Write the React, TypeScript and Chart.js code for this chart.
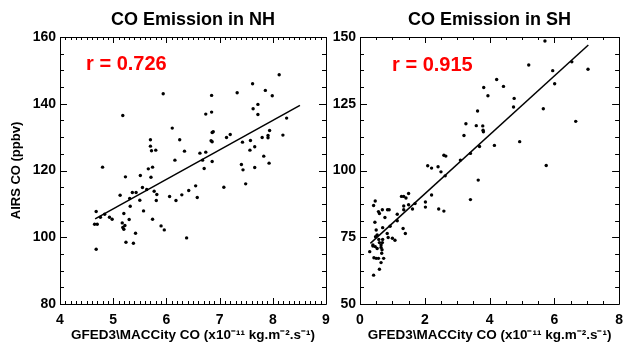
import React, { useEffect, useRef } from "react";
import { Chart, registerables } from "chart.js";

Chart.register(...registerables);

const FONT = '"Liberation Sans", Arial, Helvetica, sans-serif';

// ---------- Northern Hemisphere data ----------
const nhX = [8.12, 7.62, 7.86, 5.94, 7.33, 6.85, 7.99, 7.72, 7.63, 6.85, 6.74, 7.72, 5.18, 8.26, 6.11, 6.88, 6.86, 7.94, 7.2, 8.19, 7.13, 7.8, 7.91, 7.91, 5.7, 6.25, 6.84, 6.86, 7.43, 7.58, 5.7, 7.66, 5.72, 5.8, 6.34, 7.57, 6.74, 6.63, 7.83, 6.16, 6.68, 6.86, 7.93, 7.41, 4.8, 5.74, 5.66, 7.66, 6.71, 7.44, 5.51, 5.71, 5.23, 7.49, 6.55, 7.08, 5.55, 5.63, 6.42, 5.77, 5.36, 5.43, 5.13, 6.29, 5.82, 6.06, 6.58, 5.31, 5.5, 5.81, 6.18, 5.32, 5.57, 4.68, 5.2, 4.84, 4.76, 4.93, 4.98, 5.3, 5.74, 5.17, 4.65, 4.7, 5.22, 5.9, 5.18, 5.2, 5.96, 5.42, 6.38, 5.24, 5.38, 4.68];
const nhY = [148.7, 146.0, 144.0, 143.0, 143.3, 142.5, 142.4, 139.8, 138.5, 137.5, 136.9, 136.8, 136.5, 135.7, 132.7, 131.6, 131.4, 132.0, 130.8, 130.6, 129.9, 129.9, 130.5, 129.8, 129.2, 129.2, 128.9, 128.6, 128.5, 129.0, 127.3, 127.1, 125.9, 126.1, 125.8, 126.1, 125.5, 125.2, 124.3, 123.1, 123.1, 122.7, 122.2, 121.8, 121.0, 121.0, 120.5, 120.9, 120.6, 120.2, 118.5, 118.0, 118.1, 116.0, 115.4, 115.0, 114.9, 114.3, 114.0, 113.8, 113.4, 113.4, 112.6, 112.7, 112.8, 112.2, 111.9, 111.6, 111.1, 111.0, 111.0, 109.3, 107.9, 107.7, 107.1, 106.9, 106.0, 106.0, 105.4, 105.3, 105.4, 104.3, 103.9, 103.9, 103.5, 103.4, 102.9, 102.4, 102.2, 101.2, 99.8, 98.5, 98.2, 96.4];
const nhFitX = [4.66, 8.51];
const nhFitY = [105.5, 139.5];
const nhXTicks = [4, 5, 6, 7, 8, 9];
const nhYTicks = [80, 100, 120, 140, 160];

// ---------- Southern Hemisphere data ----------
const shX = [5.71, 5.21, 6.54, 5.95, 7.04, 6.01, 4.22, 4.43, 3.82, 3.95, 4.76, 3.63, 4.74, 5.66, 6.66, 3.27, 3.59, 3.79, 3.8, 3.81, 3.21, 4.15, 4.93, 3.69, 3.41, 2.59, 2.65, 3.1, 5.75, 2.09, 2.21, 2.41, 2.5, 2.63, 3.65, 2.21, 1.5, 1.28, 1.35, 1.42, 3.41, 2.02, 1.7, 1.5, 1.35, 1.62, 1.35, 2.02, 2.43, 2.59, 0.47, 0.42, 0.57, 0.6, 0.85, 0.9, 0.69, 1.15, 0.77, 1.15, 0.46, 0.93, 0.7, 1.33, 0.5, 0.84, 1.4, 0.53, 0.87, 1.0, 1.08, 0.58, 0.7, 0.48, 0.6, 0.69, 0.65, 0.4, 0.47, 0.53, 0.65, 0.3, 0.67, 0.43, 0.5, 0.57, 0.73, 0.65, 0.6, 0.42, 0.4, 0.68];
const shY = [148.5, 139.5, 140.7, 137.4, 137.9, 132.5, 134.1, 131.5, 131.1, 128.0, 127.0, 122.3, 123.8, 123.1, 118.4, 117.5, 116.8, 116.7, 115.1, 114.5, 113.1, 109.4, 110.8, 109.0, 106.4, 105.7, 105.4, 103.9, 101.9, 101.8, 100.9, 101.4, 99.5, 98.0, 96.4, 90.8, 91.4, 90.3, 90.3, 89.7, 89.1, 88.2, 87.6, 87.2, 86.7, 85.6, 85.3, 86.3, 85.6, 84.8, 88.6, 86.9, 84.6, 83.9, 85.3, 85.3, 85.3, 83.6, 82.4, 81.2, 80.6, 79.1, 78.6, 78.3, 77.7, 76.4, 76.4, 75.9, 74.9, 74.6, 73.9, 74.2, 74.2, 75.2, 73.0, 73.0, 72.1, 72.1, 71.5, 70.8, 71.2, 69.6, 69.0, 67.3, 67.1, 67.1, 67.1, 65.5, 63.0, 60.8, 71.7, 70.3];
const shFitX = [0.32, 7.05];
const shFitY = [72.7, 147.0];
const shXTicks = [0, 2, 4, 6, 8];
const shYTicks = [50, 75, 100, 125, 150];

const xTitle = "GFED3\\MACCity CO (x10\u207B\u00B9\u00B9 kg.m\u207B\u00B2.s\u207B\u00B9)";

type Panel = {
  title: string;
  x: number[];
  y: number[];
  fitX: number[];
  fitY: number[];
  xTicks: number[];
  yTicks: number[];
  xMinor: number;
  yMinor: number;
  rText: string;
  rPos: [number, number];
  yTitle: string | null;
  yWidth: number;
  padRight: number;
};

const boxPlugin = {
  id: "idlBox",
  afterDatasetsDraw(chart: any, _args: any, opts: any) {
    const { ctx, chartArea } = chart;
    const { left, right, top, bottom } = chartArea;
    const xs = chart.scales.x;
    const ys = chart.scales.y;
    ctx.save();
    ctx.strokeStyle = "#000";
    ctx.lineWidth = 1;
    ctx.beginPath();
    ctx.rect(Math.round(left) + 0.5, Math.round(top) + 0.5, Math.round(right - left), Math.round(bottom - top));
    ctx.stroke();
    const xMajor = opts.xTicks as number[];
    const yMajor = opts.yTicks as number[];
    const isMajor = (arr: number[], v: number) => arr.some((m) => Math.abs(m - v) < 1e-6);
    ctx.beginPath();
    for (let v = xs.min; v <= xs.max + 1e-9; v += opts.xMinor) {
      const px = Math.round(xs.getPixelForValue(v)) + 0.5;
      const len = isMajor(xMajor, v) ? 6 : 3;
      ctx.moveTo(px, bottom);
      ctx.lineTo(px, bottom - len);
      ctx.moveTo(px, top);
      ctx.lineTo(px, top + len);
    }
    for (let v = ys.min; v <= ys.max + 1e-9; v += opts.yMinor) {
      const py = Math.round(ys.getPixelForValue(v)) + 0.5;
      const len = isMajor(yMajor, v) ? 7 : 4;
      ctx.moveTo(left, py);
      ctx.lineTo(left + len, py);
      ctx.moveTo(right, py);
      ctx.lineTo(right - len, py);
    }
    ctx.stroke();
    // correlation label
    ctx.fillStyle = "#ff0000";
    ctx.font = `bold 20px ${FONT}`;
    ctx.textAlign = "left";
    ctx.textBaseline = "middle";
    ctx.fillText(opts.rText, xs.getPixelForValue(opts.rPos[0]), ys.getPixelForValue(opts.rPos[1]));
    ctx.restore();
  },
};

function makeConfig(p: Panel): any {
  const pts = p.x.map((v, i) => ({ x: v, y: p.y[i] }));
  const fit = p.fitX.map((v, i) => ({ x: v, y: p.fitY[i] }));
  return {
    type: "scatter",
    data: {
      datasets: [
        {
          data: pts,
          pointRadius: 1.7,
          pointBackgroundColor: "#000",
          pointBorderWidth: 0,
          pointHoverRadius: 1.7,
        },
        {
          type: "line",
          data: fit,
          borderColor: "#000",
          borderWidth: 1.5,
          pointRadius: 0,
          showLine: true,
          fill: false,
        },
      ],
    },
    options: {
      responsive: false,
      animation: false,
      devicePixelRatio: 1,
      events: [],
      layout: { padding: { left: 0, right: p.padRight, top: 0, bottom: 0 } },
      plugins: {
        legend: { display: false },
        tooltip: { enabled: false },
        title: {
          display: true,
          text: p.title,
          fullSize: false,
          color: "#000",
          font: { family: FONT, size: 18, weight: "bold", lineHeight: 1.2 },
          padding: { top: 9, bottom: 6.4 },
        },
        idlBox: {
          xTicks: p.xTicks,
          yTicks: p.yTicks,
          xMinor: p.xMinor,
          yMinor: p.yMinor,
          rText: p.rText,
          rPos: p.rPos,
        },
      },
      scales: {
        x: {
          type: "linear",
          min: p.xTicks[0],
          max: p.xTicks[p.xTicks.length - 1],
          grid: { display: false, drawTicks: false },
          border: { display: false },
          afterBuildTicks: (s: any) => {
            s.ticks = p.xTicks.map((v) => ({ value: v }));
          },
          afterFit: (s: any) => {
            s.height = 41;
          },
          ticks: {
            color: "#000",
            padding: 8,
            maxRotation: 0,
            font: { family: FONT, size: 14, weight: "bold" },
            callback: (v: any) => String(v),
          },
          title: {
            display: true,
            text: xTitle,
            color: "#000",
            font: { family: FONT, size: 13.5, weight: "bold", lineHeight: 1.2 },
            padding: { top: 0, bottom: 2 },
          },
        },
        y: {
          type: "linear",
          min: p.yTicks[0],
          max: p.yTicks[p.yTicks.length - 1],
          grid: { display: false, drawTicks: false },
          border: { display: false },
          afterBuildTicks: (s: any) => {
            s.ticks = p.yTicks.map((v) => ({ value: v }));
          },
          afterFit: (s: any) => {
            s.width = p.yWidth;
          },
          ticks: {
            color: "#000",
            padding: 4,
            font: { family: FONT, size: 14, weight: "bold" },
            callback: (v: any) => String(v),
          },
          title: {
            display: !!p.yTitle,
            text: p.yTitle || "",
            color: "#000",
            font: { family: FONT, size: 13, weight: "bold", lineHeight: 1.2 },
            padding: { top: 9, bottom: 0 },
          },
        },
      },
    },
    plugins: [boxPlugin],
  };
}

const nhPanel: Panel = {
  title: "CO Emission in NH",
  x: nhX,
  y: nhY,
  fitX: nhFitX,
  fitY: nhFitY,
  xTicks: nhXTicks,
  yTicks: nhYTicks,
  xMinor: 0.1,
  yMinor: 5,
  rText: "r = 0.726",
  rPos: [4.49, 151.9],
  yTitle: "AIRS CO (ppbv)",
  yWidth: 60,
  padRight: 14,
};

const shPanel: Panel = {
  title: "CO Emission in SH",
  x: shX,
  y: shY,
  fitX: shFitX,
  fitY: shFitY,
  xTicks: shXTicks,
  yTicks: shYTicks,
  xMinor: 0.5,
  yMinor: 6.25,
  rText: "r = 0.915",
  rPos: [0.99, 139.5],
  yTitle: null,
  yWidth: 40,
  padRight: 5,
};

export default function App() {
  const leftRef = useRef<HTMLCanvasElement>(null);
  const rightRef = useRef<HTMLCanvasElement>(null);
  useEffect(() => {
    const c1 = new Chart(leftRef.current as HTMLCanvasElement, makeConfig(nhPanel));
    const c2 = new Chart(rightRef.current as HTMLCanvasElement, makeConfig(shPanel));
    return () => {
      c1.destroy();
      c2.destroy();
    };
  }, []);
  return (
    <div style={{ position: "fixed", left: 0, top: 0, width: 631, height: 345, background: "#fff" }}>
      <canvas ref={leftRef} width={340} height={345} style={{ position: "absolute", left: 0, top: 0, width: 340, height: 345 }} />
      <canvas ref={rightRef} width={311} height={345} style={{ position: "absolute", left: 320, top: 0, width: 311, height: 345 }} />
    </div>
  );
}
